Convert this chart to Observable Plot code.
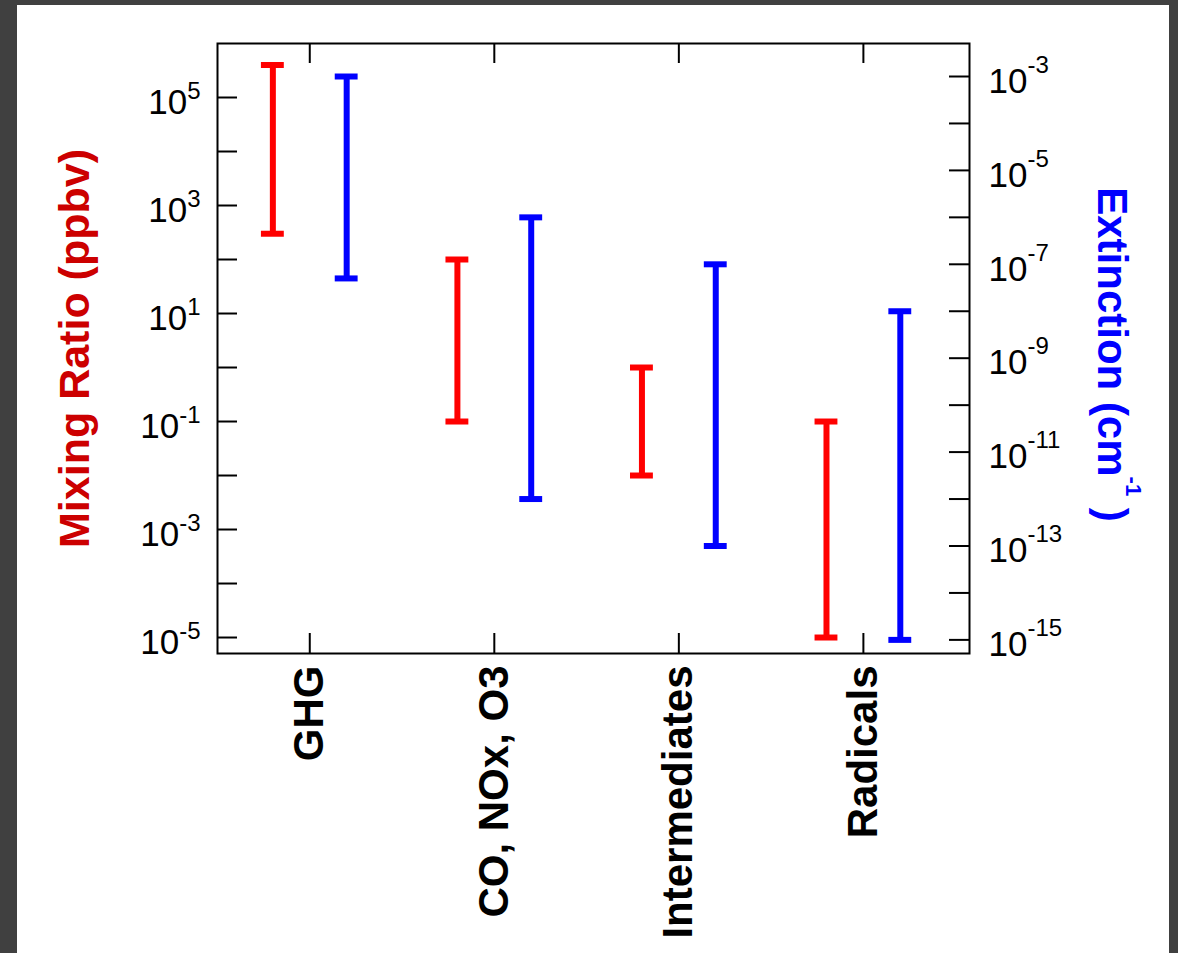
<!DOCTYPE html>
<html><head><meta charset="utf-8">
<script src="https://cdn.jsdelivr.net/npm/d3@7"></script>
<script src="https://cdn.jsdelivr.net/npm/@observablehq/plot@0.6"></script>
<style>
html,body{margin:0;padding:0;background:#404040;overflow:hidden;width:1178px;height:953px;}
#panel{position:absolute;left:17px;top:5px;width:1152px;height:948px;background:#fff;}
#panel svg{position:absolute;left:0;top:0;}
</style></head><body><div id="panel"></div>
<script>
// ---- data ----
const categories = ["GHG", "CO, NOx, O3", "Intermediates", "Radicals"];
const mixingLow  = [300, 0.1, 0.01, 1e-5];
const mixingHigh = [4e5, 100, 1, 0.1];
const extLow  = [5e-8, 1e-12, 1e-13, 1e-15];
const extHigh = [1e-3, 1e-6, 1e-7, 1e-8];
const leftMajorExp  = [5, 3, 1, -1, -3, -5];
const leftAllExp    = [5, 4, 3, 2, 1, 0, -1, -2, -3, -4, -5];
const rightMajorExp = [-3, -5, -7, -9, -11, -13, -15];
const rightAllExp   = [-3, -4, -5, -6, -7, -8, -9, -10, -11, -12, -13, -14, -15];
const leftTitle = "Mixing Ratio (ppbv)";
const rightTitle = "Extinction (cm^{-1} )";

// ---- layout ----
const W = 1152, H = 948;
const M = {marginLeft: 200, marginRight: 200, marginTop: 38, marginBottom: 300};
const frameW = W - M.marginLeft - M.marginRight;
const frameH = H - M.marginTop - M.marginBottom;
const tickLen = 20;
const style = "font-family: 'Liberation Sans', Arial, Helvetica, sans-serif; background: transparent; overflow: visible;";
const xDomain = [-0.5, 3.575];
const xTicks = categories.map((c, i) => i);
const capHalf = 0.062;
const pow = e => Math.pow(10, e);
const fmt = d => `10^{${Math.round(Math.log10(d))}}`;

const red = categories.map((c, i) => ({x: i - 0.2, lo: mixingLow[i], hi: mixingHigh[i]}));
const blue = categories.map((c, i) => ({x: i + 0.2, lo: extLow[i], hi: extHigh[i]}));

function bars(data, color) {
  return [
    Plot.ruleX(data, {x: "x", y1: "lo", y2: "hi", stroke: color, strokeWidth: 6}),
    Plot.ruleY(data, {y: "lo", x1: d => d.x - capHalf, x2: d => d.x + capHalf, stroke: color, strokeWidth: 6}),
    Plot.ruleY(data, {y: "hi", x1: d => d.x - capHalf, x2: d => d.x + capHalf, stroke: color, strokeWidth: 6})
  ];
}

const leftPlot = Plot.plot({
  width: W, height: H, ...M, style,
  x: {domain: xDomain, axis: null},
  y: {type: "log", domain: [pow(-5.296), pow(6)], axis: null},
  marks: [
    Plot.ruleY(leftAllExp.map(pow), {y: d => d, insetRight: frameW - tickLen, stroke: "black", strokeWidth: 2}),
    Plot.ruleX(xTicks, {x: d => d, insetBottom: frameH - tickLen, stroke: "black", strokeWidth: 2}),
    Plot.ruleX(xTicks, {x: d => d, insetTop: frameH - tickLen, stroke: "black", strokeWidth: 2}),
    ...bars(red, "#ff0000"),
    Plot.axisY({ticks: leftMajorExp.map(pow), tickSize: 0, tickPadding: 17, tickFormat: fmt, fontSize: 35, dy: 5, label: null, fill: "black"}),
    Plot.axisX({ticks: xTicks, tickSize: 0, tickPadding: 12, tickFormat: i => categories[i], tickRotate: -90, textAnchor: "end", lineAnchor: "middle", fontSize: 42, fontWeight: "bold", label: null, fill: "black"}),
    Plot.text([leftTitle], {text: d => d, frameAnchor: "left", textAnchor: "middle", lineAnchor: "middle", dx: -142, dy: 0, rotate: -90, fontSize: 43, fontWeight: "bold", fill: "#cc0000"}),
    Plot.frame({stroke: "black", strokeWidth: 2})
  ]
});

const rightPlot = Plot.plot({
  width: W, height: H, ...M, style,
  x: {domain: xDomain, axis: null},
  y: {type: "log", domain: [pow(-15.29), pow(-2.297)], axis: null},
  marks: [
    Plot.ruleY(rightAllExp.map(pow), {y: d => d, insetLeft: frameW - tickLen, stroke: "black", strokeWidth: 2}),
    ...bars(blue, "#0000ff"),
    Plot.axisY({anchor: "right", ticks: rightMajorExp.map(pow), tickSize: 0, tickPadding: 19, tickFormat: fmt, fontSize: 35, dy: 5, label: null, fill: "black"}),
    Plot.text([rightTitle], {text: d => d, frameAnchor: "right", textAnchor: "middle", lineAnchor: "middle", dx: 142, dy: 6, rotate: 90, fontSize: 42, fontWeight: "bold", fill: "#0000ff"})
  ]
});

function supify(nodes, supSize, rise) {
  nodes.forEach(t => {
    const s = t.textContent;
    if (!s.includes("^{")) return;
    const parts = s.split(/(\^\{[^}]*\})/).filter(p => p !== "");
    while (t.firstChild) t.removeChild(t.firstChild);
    let raised = false;
    for (const p of parts) {
      const ts = document.createElementNS("http://www.w3.org/2000/svg", "tspan");
      if (p.startsWith("^{")) {
        ts.textContent = p.slice(2, -1);
        ts.setAttribute("font-size", supSize);
        if (!raised) { ts.setAttribute("dy", -rise); raised = true; }
      } else {
        ts.textContent = p;
        if (raised) { ts.setAttribute("dy", rise); raised = false; }
      }
      t.appendChild(ts);
    }
  });
}

const panel = document.getElementById("panel");
panel.append(leftPlot, rightPlot);
supify(leftPlot.querySelectorAll('g[aria-label="y-axis tick label"] text'), 24, 15);
supify(rightPlot.querySelectorAll('g[aria-label="y-axis tick label"] text'), 24, 20);
supify(rightPlot.querySelectorAll('g[aria-label="text"] text'), 22, 28);
</script></body></html>
